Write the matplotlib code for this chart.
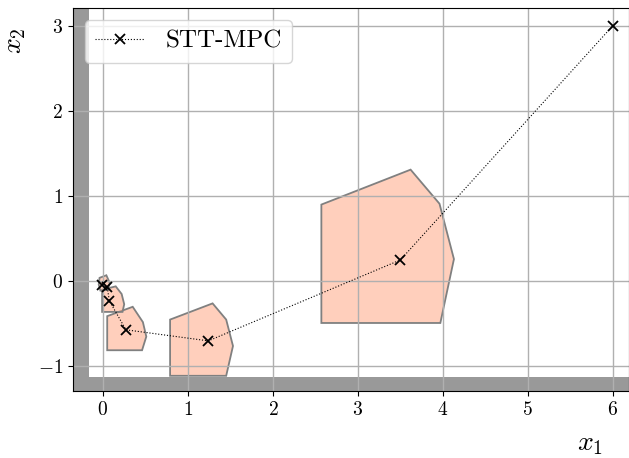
import numpy as np
import matplotlib
matplotlib.use("Agg")
import matplotlib.pyplot as plt
from matplotlib.patches import Polygon, Rectangle

plt.rcParams['font.family'] = 'serif'
plt.rcParams['font.serif'] = ['cmr10']
plt.rcParams['mathtext.fontset'] = 'cm'
plt.rcParams['axes.formatter.use_mathtext'] = True

# trajectory (STT-MPC)
traj_x = [6.0, 3.50, 1.24, 0.27, 0.075, 0.05, -0.01]
traj_y = [3.0, 0.25, -0.70, -0.57, -0.23, -0.07, -0.05]

# tube cross-sections around trajectory points
tube_big = [(2.57, 0.90), (3.62, 1.31), (3.96, 0.91), (4.13, 0.26), (3.97, -0.49), (2.57, -0.49)]
tube_mid = [(0.79, -0.45), (1.29, -0.26), (1.45, -0.45), (1.53, -0.76), (1.45, -1.11), (0.79, -1.11)]
tube_small = [(0.05, -0.41), (0.35, -0.30), (0.47, -0.48), (0.51, -0.65), (0.46, -0.81), (0.05, -0.81)]
tube_tiny = [(-0.01, -0.36), (-0.01, -0.10), (0.15, -0.06), (0.22, -0.15), (0.25, -0.27), (0.23, -0.36)]
tube_tinier = [(-0.05, -0.04), (-0.04, 0.04), (0.04, 0.07), (0.08, -0.02), (0.06, -0.10), (-0.03, -0.11)]
tubes = [tube_big, tube_mid, tube_small, tube_tiny, tube_tinier]

# obstacle walls
wall_left = -0.16
wall_bottom = -1.12

fig = plt.figure(figsize=(6.29, 4.58), dpi=100)
ax = fig.add_axes([0.116, 0.146, 0.884, 0.837])

ax.add_patch(Rectangle((-1, -2), wall_left + 1, 7, facecolor='#999999', edgecolor='none', zorder=0.8))
ax.add_patch(Rectangle((-1, -2), 8, wall_bottom + 2, facecolor='#999999', edgecolor='none', zorder=0.8))

for t in tubes:
    ax.add_patch(Polygon(t, closed=True, facecolor=(1.0, 0.627, 0.478, 0.5),
                         edgecolor='#808080', linewidth=1.3, zorder=1))

ax.plot(traj_x, traj_y, color='black', linestyle=':', linewidth=0.8,
        marker='x', markersize=7.5, markeredgewidth=1.3, label='STT-MPC', zorder=2)

ax.grid(True, color='#b0b0b0', linewidth=1.0)
ax.set_xlim(-0.353, 6.19)
ax.set_ylim(-1.29, 3.21)
ax.set_xticks([0, 1, 2, 3, 4, 5, 6])
ax.set_yticks([-1, 0, 1, 2, 3])
ax.tick_params(labelsize=14)
ax.set_xlabel('$x_1$', fontsize=20, loc='right')
ax.set_ylabel('$x_2$', fontsize=20, loc='top')
ax.xaxis.set_label_coords(0.953, -0.104)
ax.yaxis.set_label_coords(-0.081, 0.948)
ax.legend(loc='upper left', fontsize=18, handlelength=2.0)

fig.savefig('out.png', dpi=100)
